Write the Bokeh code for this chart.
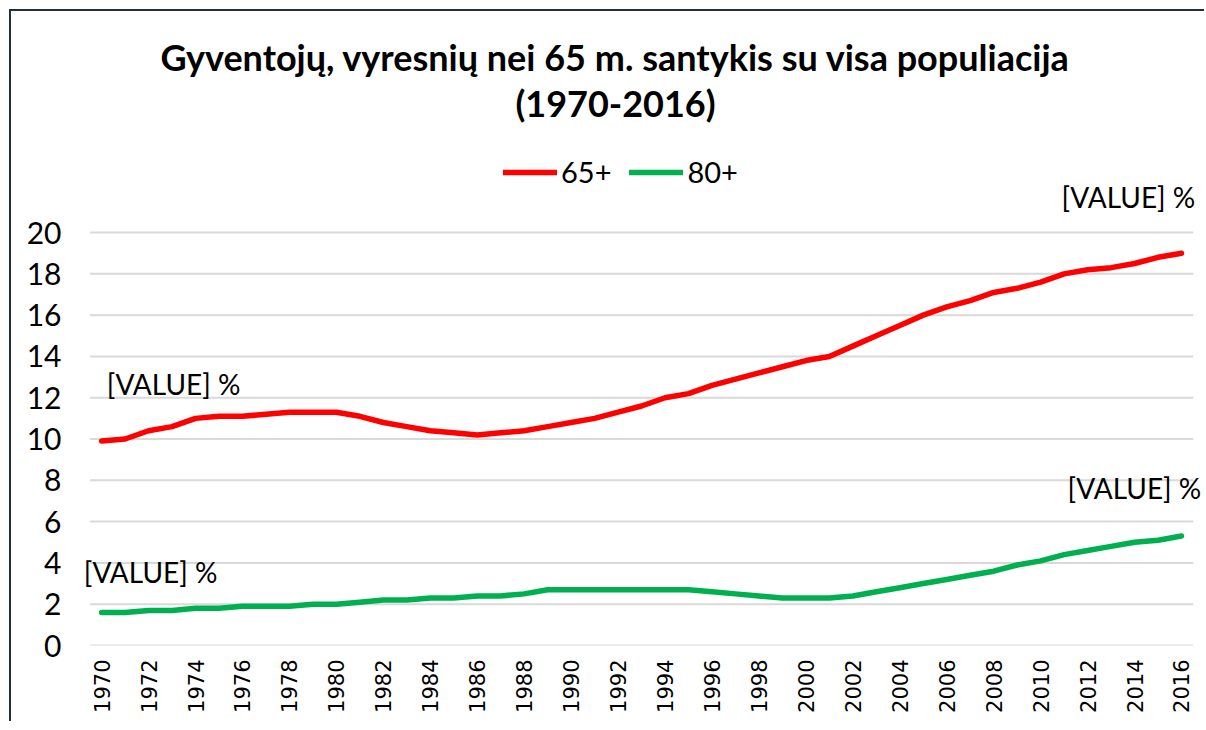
from bokeh.plotting import figure
from bokeh.models import (ColumnDataSource, Range1d, FixedTicker, Legend, LegendItem,
                          Label, LabelSet)
from bokeh.core.properties import value
from bokeh.embed import file_html
from bokeh.resources import INLINE

years = list(range(1970, 2017))
share_65 = [9.9, 10.0, 10.4, 10.6, 11.0, 11.1, 11.1, 11.2, 11.3, 11.3,
            11.3, 11.1, 10.8, 10.6, 10.4, 10.3, 10.2, 10.3, 10.4, 10.6,
            10.8, 11.0, 11.3, 11.6, 12.0, 12.2, 12.6, 12.9, 13.2, 13.5,
            13.8, 14.0, 14.5, 15.0, 15.5, 16.0, 16.4, 16.7, 17.1, 17.3,
            17.6, 18.0, 18.2, 18.3, 18.5, 18.8, 19.0]
share_80 = [1.6, 1.6, 1.7, 1.7, 1.8, 1.8, 1.9, 1.9, 1.9, 2.0,
            2.0, 2.1, 2.2, 2.2, 2.3, 2.3, 2.4, 2.4, 2.5, 2.7,
            2.7, 2.7, 2.7, 2.7, 2.7, 2.7, 2.6, 2.5, 2.4, 2.3,
            2.3, 2.3, 2.4, 2.6, 2.8, 3.0, 3.2, 3.4, 3.6, 3.9,
            4.1, 4.4, 4.6, 4.8, 5.0, 5.1, 5.3]
series_names = ["65+", "80+"]
y_ticks = [0, 2, 4, 6, 8, 10, 12, 14, 16, 18, 20]
x_ticks = list(range(1970, 2017, 2))
title_lines = ["Gyventojų, vyresnių nei 65 m. santykis su visa populiacija", "(1970-2016)"]
data_label_text = "[VALUE] %"

RED = "#ff0000"
GREEN = "#00b050"
FONT = "Lato"

p = figure(width=1195, height=712, output_backend="svg", toolbar_location=None,
           x_range=Range1d(years[0] - 0.9, years[-1] + 0.98), y_range=Range1d(0, 30.27),
           min_border_left=69, min_border_right=2, min_border_top=9, min_border_bottom=78)
p.styles = {"border-left": "2px solid #242d38", "border-top": "2px solid #242d38",
            "margin-left": "9px", "margin-top": "9px"}
p.outline_line_color = None
p.background_fill_color = "white"
p.border_fill_color = "white"

# horizontal gridlines spanning the category area
p.xgrid.grid_line_color = None
p.ygrid.grid_line_color = None
p.segment(x0=[years[0] - 0.5] * len(y_ticks), x1=[years[-1] + 0.5] * len(y_ticks),
          y0=y_ticks, y1=y_ticks, line_color="#d9d9d9", line_width=2)

src = ColumnDataSource(dict(year=years, s65=share_65, s80=share_80))
r1 = p.line("year", "s65", source=src, line_color=RED, line_width=5.5,
            line_cap="round", line_join="round")
r2 = p.line("year", "s80", source=src, line_color=GREEN, line_width=5.5,
            line_cap="round", line_join="round")

# axes
p.yaxis.ticker = FixedTicker(ticks=y_ticks)
p.xaxis.ticker = FixedTicker(ticks=x_ticks)
for ax in (p.xaxis[0], p.yaxis[0]):
    ax.axis_line_color = None
    ax.major_tick_line_color = None
    ax.minor_tick_line_color = None
    ax.major_tick_out = 0
    ax.major_tick_in = 0
    ax.minor_tick_out = 0
p.yaxis.major_label_text_font = FONT
p.yaxis.major_label_text_font_size = "30px"
p.yaxis.major_label_text_color = "black"
p.yaxis.major_label_standoff = 19
p.xaxis.major_label_text_font = "DejaVu Sans"
p.xaxis.major_label_text_font_size = "21px"
p.xaxis.major_label_text_color = "black"
p.xaxis.major_label_orientation = 3.14159265 / 2
p.xaxis.major_label_standoff = 14

# legend
legend = Legend(items=[LegendItem(label=series_names[0], renderers=[r1]),
                       LegendItem(label=series_names[1], renderers=[r2])],
                orientation="horizontal", location=(423, 456),
                label_text_font=FONT, label_text_font_size="29px", label_text_color="black",
                glyph_width=54, glyph_height=34, label_height=34, label_standoff=4,
                spacing=18, padding=0, margin=0,
                border_line_color=None, background_fill_alpha=0)
p.add_layout(legend, "center")

# data labels at first and last points of each series
lab_src = ColumnDataSource(dict(
    x=[years[0], years[-1], years[0], years[-1]],
    y=[share_65[0], share_65[-1], share_80[0], share_80[-1]],
    t=[data_label_text] * 4,
    dx=[5, -120, -18, -114],
    dy=[57, 56, 40, 48],
))
p.add_layout(LabelSet(x="x", y="y", text="t", source=lab_src, x_offset="dx", y_offset="dy",
                      text_font=value(FONT), text_font_size=value("28px"), text_color="black",
                      text_align="left", text_baseline="middle"))

# title (two centered lines)
p.add_layout(Label(x=535, y=589, x_units="screen", y_units="screen", text=title_lines[0],
                   text_font=FONT, text_font_style="bold", text_font_size="36px",
                   text_color="black", text_align="center", text_baseline="middle"))
p.add_layout(Label(x=535, y=543, x_units="screen", y_units="screen", text=title_lines[1],
                   text_font=FONT, text_font_style="bold", text_font_size="36px",
                   text_color="black", text_align="center", text_baseline="middle"))

open("out.html", "w").write(file_html(p, INLINE))
